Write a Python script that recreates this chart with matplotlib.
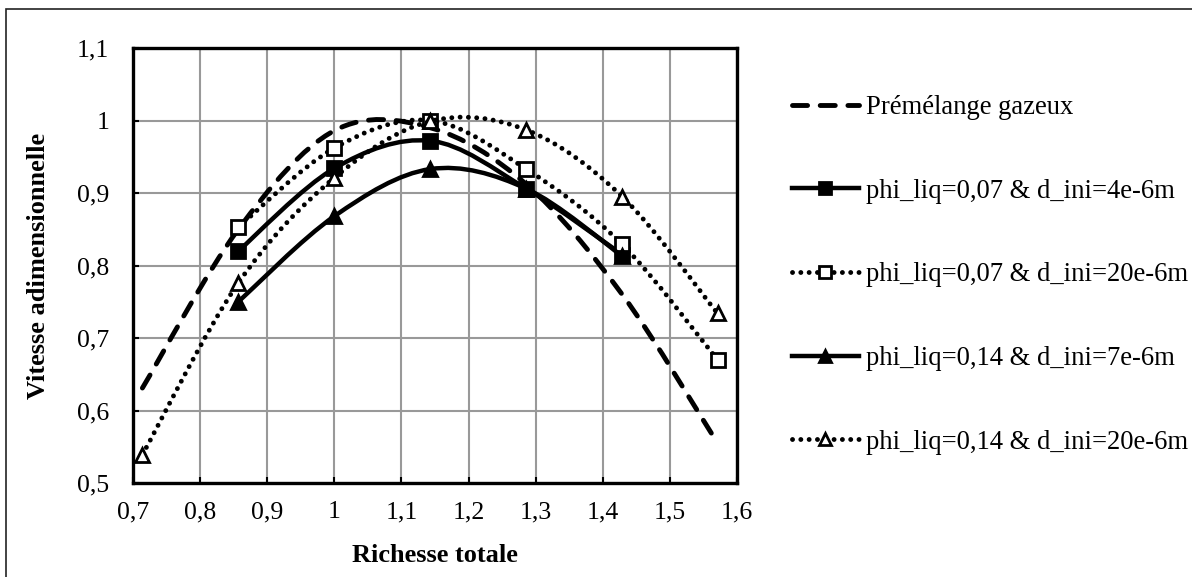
import matplotlib
matplotlib.use("Agg")
import matplotlib.pyplot as plt
import numpy as np
from matplotlib.path import Path
from matplotlib.patches import PathPatch, Rectangle
from matplotlib.lines import Line2D
from matplotlib.ticker import FuncFormatter, MultipleLocator

plt.rcParams['font.family'] = ['Liberation Serif', 'DejaVu Serif']

# data (richesse = k/7)
x_all = [0.714, 0.857, 1.0, 1.143, 1.286, 1.429, 1.571]
y_premel = [0.631, 0.850, 0.986, 0.990, 0.912, 0.760, 0.555]

x_s1 = [0.857, 1.0, 1.143, 1.286, 1.429]
y_s1 = [0.820, 0.934, 0.972, 0.906, 0.815]

x_s2 = [0.857, 1.0, 1.143, 1.286, 1.429, 1.571]
y_s2 = [0.853, 0.962, 1.000, 0.933, 0.829, 0.670]

x_s3 = [0.857, 1.0, 1.143, 1.286, 1.429]
y_s3 = [0.750, 0.868, 0.933, 0.906, 0.813]

x_s4 = [0.714, 0.857, 1.0, 1.143, 1.286, 1.429, 1.571]
y_s4 = [0.539, 0.776, 0.921, 0.999, 0.987, 0.895, 0.734]

labels = ["Prémélange gazeux",
          "phi_liq=0,07 & d_ini=4e-6m",
          "phi_liq=0,07 & d_ini=20e-6m",
          "phi_liq=0,14 & d_ini=7e-6m",
          "phi_liq=0,14 & d_ini=20e-6m"]


def smooth_path(xs, ys):
    # excel-like smoothed line: catmull-rom turned into cubic bezier pieces
    pts = np.column_stack([xs, ys])
    n = len(pts)
    verts = [pts[0]]
    codes = [Path.MOVETO]
    for i in range(n - 1):
        p0 = pts[max(i - 1, 0)]
        p1 = pts[i]
        p2 = pts[i + 1]
        p3 = pts[min(i + 2, n - 1)]
        verts += [p1 + (p2 - p0) / 6.0, p2 - (p3 - p1) / 6.0, p2]
        codes += [Path.CURVE4] * 3
    return Path(verts, codes)


W, H = 1192, 577
fig = plt.figure(figsize=(W / 100, H / 100), dpi=100)
ax = fig.add_axes([133 / W, 1 - 483 / H, (737 - 133) / W, (483 - 48) / H])

# outer chart-area border (only left/top visible)
fig.patches.append(Rectangle((6 / W, -0.2), 1.3, 1.2 - 9 / H,
                             transform=fig.transFigure, fill=False,
                             edgecolor='#222222', lw=1.2, clip_on=False))

FS = 18.5
LFS = 19.2
dashed = (0, (3.1, 2.6))
dotted = (0, (0.01, 1.7))
lw_solid = 3.2
lw_dash = 3.5
lw_dot = 3.5

series = [
    (x_all, y_premel, dashed, lw_dash, None, 'k'),
    (x_s1, y_s1, '-', lw_solid, 's', 'k'),
    (x_s2, y_s2, dotted, lw_dot, 's', 'white'),
    (x_s3, y_s3, '-', lw_solid, '^', 'k'),
    (x_s4, y_s4, dotted, lw_dot, '^', 'white'),
]

handles = []
for i, (xs, ys, ls, lw, mk, face) in enumerate(series):
    z = 3 + i
    patch = PathPatch(smooth_path(xs, ys), fill=False, edgecolor='k', lw=lw,
                      linestyle=ls, capstyle='round', joinstyle='round', zorder=z)
    ax.add_patch(patch)
    ms = 9.8 if mk == 's' else 10.3
    if mk is not None:
        ax.plot(xs, ys, linestyle='none', marker=mk, ms=ms, mfc=face,
                mec='k', mew=2.0, zorder=z + 0.5)
    handles.append(Line2D([], [], color='k', lw=lw, linestyle=ls,
                          dash_capstyle='round', marker=mk, ms=ms - 1,
                          mfc=face, mec='k', mew=2.0))

ax.set_xlim(0.7, 1.6)
ax.set_ylim(0.5, 1.1)
ax.xaxis.set_major_locator(MultipleLocator(0.1))
ax.yaxis.set_major_locator(MultipleLocator(0.1))
comma = FuncFormatter(lambda v, p: f"{round(v, 1):g}".replace('.', ','))
ax.xaxis.set_major_formatter(comma)
ax.yaxis.set_major_formatter(comma)

ax.grid(True, color='#999999', lw=1.5, zorder=0)
ax.set_axisbelow(True)
for s in ax.spines.values():
    s.set_linewidth(2.4)
    s.set_color('k')
    s.set_zorder(10)

ax.tick_params(axis='both', direction='in', length=4, width=1.5, labelsize=FS)
ax.tick_params(axis='x', pad=13)
ax.tick_params(axis='y', pad=17)

ax.set_xlabel("Richesse totale", fontsize=FS + 0.5, fontweight='bold', va='center')
ax.xaxis.set_label_coords(0.5, -(555 - 483) / (483 - 48))
ax.set_ylabel("Vitesse adimensionnelle", fontsize=FS + 0.5, fontweight='bold', va='center')
ax.yaxis.set_label_coords((39 - 133) / (737 - 133), 0.5)

fig.legend(handles, labels, loc='upper left',
           bbox_to_anchor=(792 / W, 1 - 95 / H), bbox_transform=fig.transFigure,
           frameon=False, fontsize=LFS, borderpad=0, borderaxespad=0,
           handlelength=2.5, handletextpad=0.27, labelspacing=2.2,
           numpoints=1)

fig.savefig("out.png", dpi=100)
